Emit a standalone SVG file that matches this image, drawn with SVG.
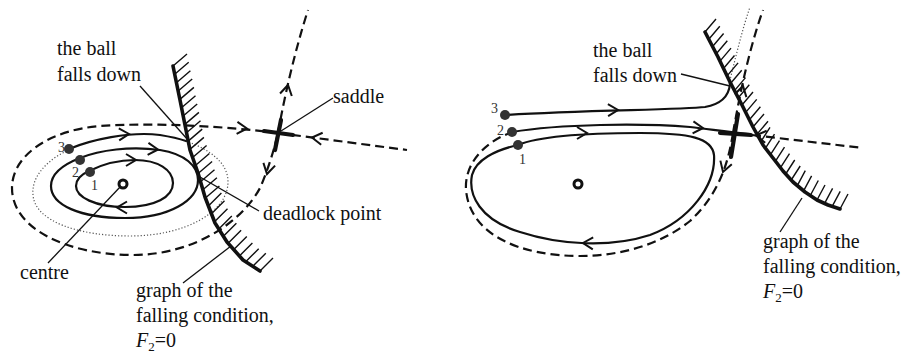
<svg xmlns="http://www.w3.org/2000/svg" xmlns:xlink="http://www.w3.org/1999/xlink" width="904" height="355" viewBox="0 0 904 355">
<style>
.bg{fill:#fff}
.traj{fill:none;stroke:#111;stroke-width:2.2;stroke-linecap:round;stroke-linejoin:round}
.dash{fill:none;stroke:#111;stroke-width:2.2;stroke-dasharray:9 5}
.dot{fill:none;stroke:#555;stroke-width:1.2;stroke-dasharray:1.2 2}
.fall{fill:none;stroke:#111;stroke-width:3.6;stroke-linejoin:round;stroke-linecap:round}
.hatch{fill:none;stroke:#111;stroke-width:1.4}
.thick{stroke:#111;stroke-width:4.2;stroke-linecap:round}
.lead{fill:none;stroke:#111;stroke-width:1.3}
.pt{fill:#333}
.ring{fill:#fff;stroke:#111;stroke-width:3}
.lbl{font-size:20px;fill:#111}
.num{font-size:14px;fill:#333}
</style>
<defs>
<path id="chev" d="M-10,-6 L0,0 L-10,6" fill="none" stroke="#111" stroke-width="2" stroke-linejoin="miter"/>
</defs>
<rect class="bg" x="0" y="0" width="904" height="355"/>

<g id="left-panel">
  <g id="left-separatrices">
    <path class="dash" d="M278,133 C230,127 160,122 100,126 C50,130 12,155 12,188 C12,230 70,255 133,255 C190,255 240,225 260,188 C268,170 274,150 278,133"/>
    <path class="dash" d="M278,133 C282,110 292,60 308,10"/>
    <path class="dash" d="M278,133 L407,150"/>
    <line class="thick" x1="264" y1="131" x2="293" y2="135"/>
    <line class="thick" x1="281" y1="120" x2="275" y2="150"/>
    <use xlink:href="#chev" transform="translate(247,128.5) rotate(4)"/>
    <use xlink:href="#chev" transform="translate(312,137.5) rotate(187)"/>
    <use xlink:href="#chev" transform="translate(288,85) rotate(-78)"/>
    <use xlink:href="#chev" transform="translate(267,174) rotate(103)"/>
  </g>
  <g id="left-trajectories">
    <path class="dot" d="M186,141 C205,148 228,160 228,182 C228,212 185,236 130,236 C80,236 35,222 33,195 C31,175 50,158 69,150"/>
    <path class="traj" d="M69,149 C90,140 130,131 160,135 C172,137 180,139 186,141"/>
    <path class="traj" d="M80,158 C100,150 130,146 160,150 C185,154 198,166 198,180 C198,200 170,218 125,218 C80,218 51,205 51,186 C51,174 62,165 80,158 Z"/>
    <path class="traj" d="M89,171 C105,163 120,160 135,160 C158,160 173,170 173,183 C173,197 155,207 125,207 C95,207 76,197 76,186 C76,180 80,175 89,171 Z"/>
    <use xlink:href="#chev" transform="translate(129,134) rotate(-2)"/>
    <use xlink:href="#chev" transform="translate(158,149.5) rotate(4)"/>
    <use xlink:href="#chev" transform="translate(136,160) rotate(0)"/>
    <use xlink:href="#chev" transform="translate(117,207.5) rotate(180)"/>
  </g>
  <g id="left-falling-condition">
    <polyline class="fall" points="173,66 180,100 185,125 190,150 198,173 205,197 215,223 227,242 243,260 260,271"/>
    <path class="hatch" d="M173,66l14,-12M174.7,74.3l14,-12M176.4,82.7l14,-12M178.2,91l14,-12M179.9,99.4l14,-12M181.5,107.7l14,-12M183.2,116l14,-12M184.9,124.4l14,-12M186.5,132.7l14,-12M188.2,141.1l14,-12M189.9,149.4l14,-12M192.6,157.5l14,-12M195.4,165.5l14,-12M198.1,173.5l14,-12M200.5,181.7l14,-12M202.9,189.8l14,-12M205.4,198l14,-12M208.4,205.9l13,-13M211.5,213.8l13,-13M214.5,221.8l13,-13M218.8,229.1l13,-13M223.4,236.3l13,-13M228.1,243.3l13,-13M233.8,249.6l13,-13M239.4,256l13,-13M245.7,261.7l13,-13M252.8,266.3l13,-13M260,271l13,-13"/>
  </g>
  <g id="left-points" font-family="Liberation Serif, Times New Roman, DejaVu Serif, serif">
    <circle class="ring" cx="123" cy="184" r="4"/>
    <circle class="pt" cx="69" cy="149" r="5"/>
    <circle class="pt" cx="80" cy="160" r="5"/>
    <circle class="pt" cx="90" cy="172" r="5"/>
    <text class="num" x="58" y="152">3</text>
    <text class="num" x="72" y="177">2</text>
    <text class="num" x="91" y="190">1</text>
  </g>
  <g id="left-labels" font-family="Liberation Serif, Times New Roman, DejaVu Serif, serif">
    <line class="lead" x1="140" y1="86" x2="188" y2="140"/>
    <line class="lead" x1="333" y1="98" x2="281" y2="131"/>
    <line class="lead" x1="200" y1="177" x2="259" y2="211"/>
    <line class="lead" x1="121" y1="186" x2="48" y2="263"/>
    <line class="lead" x1="183" y1="283" x2="231" y2="246"/>
    <text class="lbl" x="57" y="55">the ball</text>
    <text class="lbl" x="57" y="81">falls down</text>
    <text class="lbl" x="333" y="103">saddle</text>
    <text class="lbl" x="263" y="220">deadlock point</text>
    <text class="lbl" x="20" y="279">centre</text>
    <text class="lbl" x="136" y="297">graph of the</text>
    <text class="lbl" x="136" y="322">falling condition,</text>
    <text class="lbl" x="136" y="347"><tspan font-style="italic">F</tspan><tspan font-size="13" dy="4">2</tspan><tspan dy="-4">=0</tspan></text>
  </g>
</g>

<g id="right-panel">
  <g id="right-separatrices">
    <path class="dash" d="M733,133 C728,165 718,195 690,221 C660,245 620,256 580,256 C520,256 470,235 466,190 C464,160 490,140 510,133"/>
    <path class="dash" d="M733,133 C738,105 747,55 763,10"/>
    <path class="dash" d="M752,135 L863,148"/>
    <path class="dot" d="M729,84 C735,60 742,30 750,7"/>
    <use xlink:href="#chev" transform="translate(743,86) rotate(-76)"/>
    <use xlink:href="#chev" transform="translate(723,172) rotate(108)"/>
    <use xlink:href="#chev" transform="translate(756,135.5) rotate(187)"/>
  </g>
  <g id="right-trajectories">
    <path class="traj" d="M505,115 C580,110 680,110 705,107 C722,104 729,95 730,84"/>
    <path class="traj" d="M512,132 C560,124 640,123 690,127 C710,129 725,132 750,134"/>
    <path class="traj" d="M518,145 C540,136 580,133 640,133 C690,133 712,138 714,155 C716,185 690,220 650,235 C610,248 560,245 520,232 C480,220 468,195 472,175 C476,160 495,150 518,145 Z"/>
    <line class="thick" x1="720" y1="133" x2="751" y2="135"/>
    <line class="thick" x1="738" y1="114" x2="731" y2="157"/>
    <use xlink:href="#chev" transform="translate(618,110) rotate(-1)"/>
    <use xlink:href="#chev" transform="translate(587,133) rotate(0)"/>
    <use xlink:href="#chev" transform="translate(703,128) rotate(4)"/>
    <use xlink:href="#chev" transform="translate(583,243) rotate(182)"/>
  </g>
  <g id="right-falling-condition">
    <polyline class="fall" points="705,32 718,57 730,82 742,105 753,127 763,145 773,158 783,171 793,182 805,192 817,200 828,205 840,209"/>
    <path class="hatch" d="M705,32l11,-13M708.8,39.3l11,-13M712.6,46.5l11,-13M716.3,53.8l11,-13M720,61.1l11,-13M723.5,68.5l11,-13M727.1,75.9l11,-13M730.7,83.3l11,-13M734.5,90.6l11,-13M738.3,97.8l11,-13M742,105l11,-13M745.7,112.4l11,-13M749.4,119.8l11,-13M753,127l11,-13M757,134.3l11,-13M761,141.4l9,-14M765.5,148.2l9,-14M770.5,154.7l9,-14M775.5,161.2l9,-14M780.5,167.7l9,-14M785.7,174l9,-14M791.2,180l9,-14M797.3,185.6l8,-15M803.6,190.8l8,-15M810.3,195.5l8,-15M817,200l8,-15M824.6,203.4l8,-15M832.2,206.4l8,-15M840,209l8,-15"/>
  </g>
  <g id="right-points" font-family="Liberation Serif, Times New Roman, DejaVu Serif, serif">
    <circle class="ring" cx="578" cy="184" r="4"/>
    <circle class="pt" cx="505" cy="115" r="5"/>
    <circle class="pt" cx="512" cy="132" r="5"/>
    <circle class="pt" cx="518" cy="145" r="5"/>
    <text class="num" x="491" y="113">3</text>
    <text class="num" x="497" y="135">2</text>
    <text class="num" x="519" y="164">1</text>
  </g>
  <g id="right-labels" font-family="Liberation Serif, Times New Roman, DejaVu Serif, serif">
    <line class="lead" x1="681" y1="74" x2="730" y2="86"/>
    <line class="lead" x1="780" y1="232" x2="802" y2="198"/>
    <text class="lbl" x="593" y="57">the ball</text>
    <text class="lbl" x="593" y="82">falls down</text>
    <text class="lbl" x="763" y="248">graph of the</text>
    <text class="lbl" x="763" y="273">falling condition,</text>
    <text class="lbl" x="763" y="298"><tspan font-style="italic">F</tspan><tspan font-size="13" dy="4">2</tspan><tspan dy="-4">=0</tspan></text>
  </g>
</g>
</svg>
